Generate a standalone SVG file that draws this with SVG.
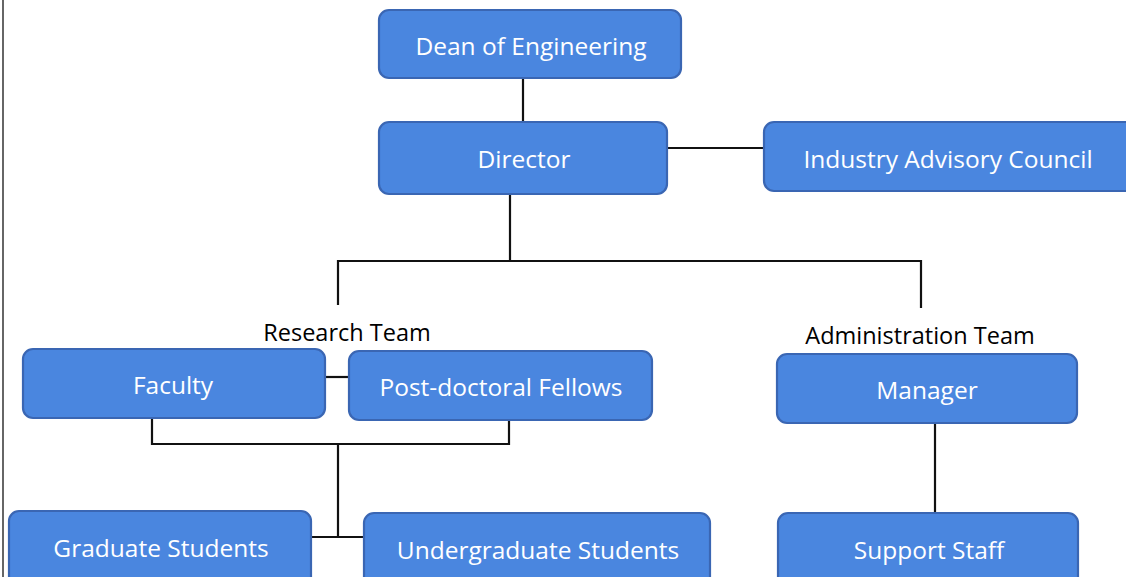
<svg xmlns="http://www.w3.org/2000/svg" width="1126" height="577" viewBox="0 0 1126 577">
<style>
.n{fill:#4a86df;stroke:#3a66b3;stroke-width:2.2}
.t{fill:#ffffff;font-family:"Open Sans","Liberation Sans",sans-serif;font-size:24.5px;text-anchor:middle;dominant-baseline:central}
.l{fill:#000000;font-family:"Open Sans","Liberation Sans",sans-serif;font-size:23.5px;font-weight:500;text-anchor:middle}
.c{fill:none;stroke:#111111;stroke-width:2.2}
</style>
<rect width="1126" height="577" fill="#ffffff"/>
<line x1="3" y1="0" x2="3" y2="577" stroke="#333333" stroke-width="1.5"/>
<g id="connectors">
<path class="c" d="M523 78V122"/>
<path class="c" d="M667 148H764"/>
<path class="c" d="M510 194V261M338 305V261H921V308"/>
<path class="c" d="M325 377H349"/>
<path class="c" d="M152 418V444H509V420"/>
<path class="c" d="M338 444V537M311 537H364"/>
<path class="c" d="M935 423V513"/>
</g>
<g id="dean"><rect class="n" x="379" y="10" width="302" height="68" rx="10"/><text class="t" x="531" y="45">Dean of Engineering</text></g>
<g id="director"><rect class="n" x="379" y="122" width="288" height="72" rx="10"/><text class="t" x="524" y="158">Director</text></g>
<g id="iac"><rect class="n" x="764" y="122" width="380" height="69" rx="10"/><text class="t" x="948" y="158">Industry Advisory Council</text></g>
<text class="l" x="347" y="341">Research Team</text>
<text class="l" x="920" y="344">Administration Team</text>
<g id="faculty"><rect class="n" x="23" y="349" width="302" height="69" rx="10"/><text class="t" x="173" y="384">Faculty</text></g>
<g id="postdoc"><rect class="n" x="349" y="351" width="303" height="69" rx="10"/><text class="t" x="501" y="386">Post-doctoral Fellows</text></g>
<g id="manager"><rect class="n" x="777" y="354" width="300" height="69" rx="10"/><text class="t" x="927" y="389">Manager</text></g>
<g id="grad"><rect class="n" x="9" y="511" width="302" height="80" rx="10"/><text class="t" x="161" y="547">Graduate Students</text></g>
<g id="undergrad"><rect class="n" x="364" y="513" width="346" height="80" rx="10"/><text class="t" x="538" y="549">Undergraduate Students</text></g>
<g id="support"><rect class="n" x="778" y="513" width="300" height="80" rx="10"/><text class="t" x="929" y="549">Support Staff</text></g>
</svg>
